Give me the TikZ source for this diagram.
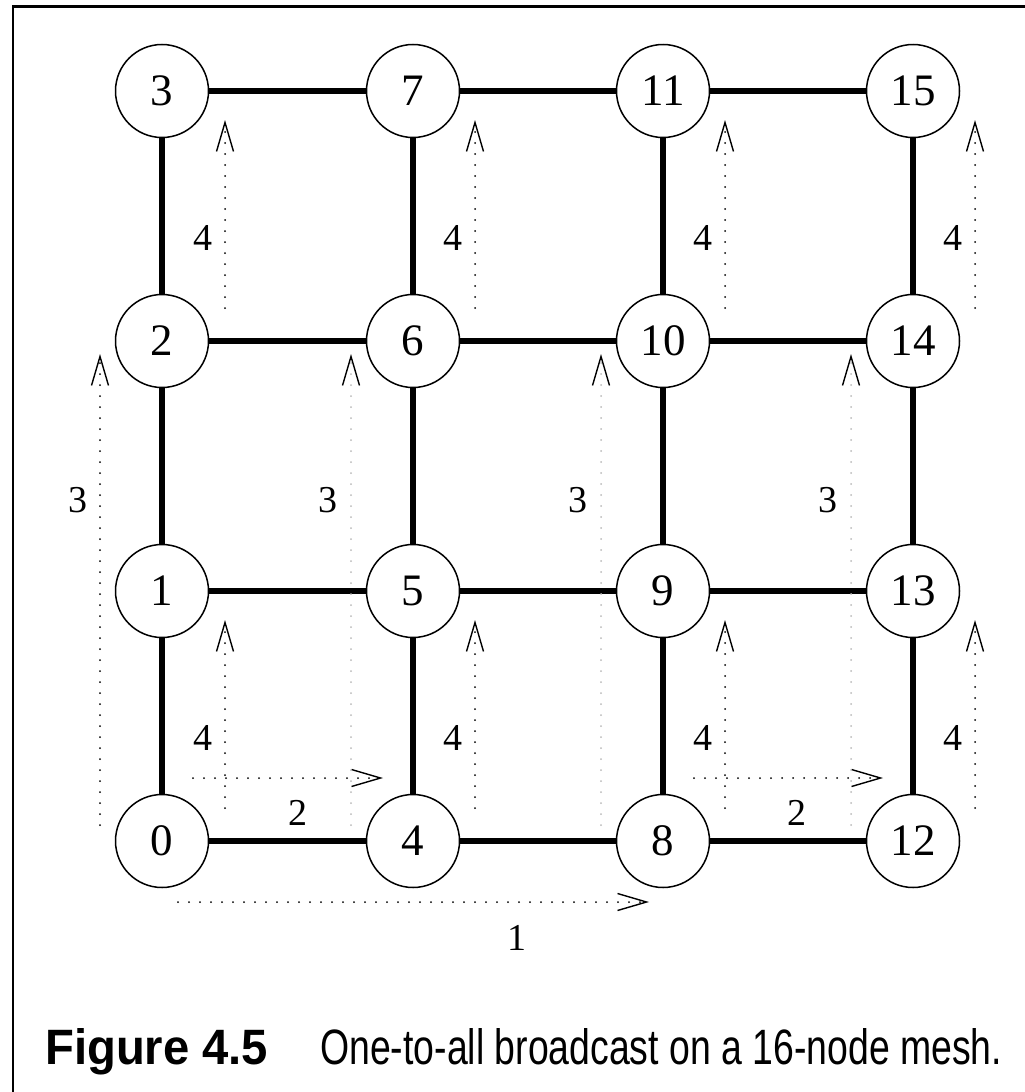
\documentclass[tikz,border=0pt]{standalone}
\usepackage{fontspec}
\usepackage{graphicx}
\setmainfont{Liberation Serif}
\newfontfamily\capfont{Liberation Sans}
\usetikzlibrary{arrows.meta}

\begin{document}
\begin{tikzpicture}[x=1pt,y=-1pt,
  mnode/.style={circle,draw,line width=1.5pt,minimum size=93pt,inner sep=0pt,font=\fontsize{45}{50}\selectfont},
  link/.style={line width=6pt},
  msg/.style={line width=2pt,line cap=round,dash pattern=on 0pt off 11pt,
    -{Straight Barb[length=29pt,width=17pt,line width=1.4pt,color=black]}},
  faint/.style={draw=gray!55},
  lbl/.style={font=\fontsize{38}{42}\selectfont,inner sep=0pt},
  frame/.style={line width=2.5pt}
]
\useasboundingbox (0,0) rectangle (1025,1092);

% frame (only left and top edges visible)
\coordinate (fa) at (13,1092);
\coordinate (fb) at (13,6.5);
\coordinate (fc) at (1025,6.5);
\draw[frame] (fa) -- (fb) -- (fc);

% mesh nodes
\foreach \c/\x in {0/162,1/413,2/663,3/913}{
  \foreach \r/\y in {0/841,1/591,2/341,3/91}{
    \pgfmathtruncatemacro{\n}{4*\c+\r}
    \node[mnode] (n\n) at (\x,\y) {\n};
  }
}

% links
\foreach \a/\b in {0/4,4/8,8/12,1/5,5/9,9/13,2/6,6/10,10/14,3/7,7/11,11/15,
                   0/1,1/2,2/3,4/5,5/6,6/7,8/9,9/10,10/11,12/13,13/14,14/15}{
  \draw[link] (n\a) -- (n\b);
}

% step 1
\coordinate (s1a) at (178,902);
\coordinate (s1b) at (649,902);
\draw[msg] (s1a) -- (s1b);
\node[lbl] (l1) at (517,938) {1};

% step 2
\coordinate (s2aa) at (193,778);
\coordinate (s2ab) at (383,778);
\draw[msg] (s2aa) -- (s2ab);
\node[lbl] (l2a) at (298,813) {2};
\coordinate (s2ba) at (694,778);
\coordinate (s2bb) at (883,778);
\draw[msg] (s2ba) -- (s2bb);
\node[lbl] (l2b) at (797,813) {2};

% step 3
\coordinate (s3aa) at (100,825);
\coordinate (s3ab) at (100,354);
\draw[msg] (s3aa) -- (s3ab);
\node[lbl] (l3a) at (78,500) {3};
\foreach \i/\x in {b/351,c/601,d/851}{
  \coordinate (s3\i a) at (\x,825);
  \coordinate (s3\i b) at (\x,354);
  \draw[msg,faint] (s3\i a) -- (s3\i b);
  \node[lbl] (l3\i) at (\x-23,500) {3};
}

% step 4
\foreach \i/\x in {a/225,b/475,c/725,d/975}{
  \coordinate (s4\i a) at (\x,808);
  \coordinate (s4\i b) at (\x,620);
  \draw[msg] (s4\i a) -- (s4\i b);
  \node[lbl] (l4\i) at (\x-22,738) {4};
  \coordinate (t4\i a) at (\x,308);
  \coordinate (t4\i b) at (\x,120);
  \draw[msg] (t4\i a) -- (t4\i b);
  \node[lbl] (m4\i) at (\x-22,238) {4};
}

% caption
\node[anchor=base west,inner sep=0pt] (figno) at (45,1064)
  {\resizebox{223pt}{36pt}{\capfont\bfseries Figure 4.5}};
\node[anchor=base west,inner sep=0pt] (captxt) at (320,1064)
  {\resizebox{682pt}{36pt}{\capfont One-to-all broadcast on a 16-node mesh.}};
\end{tikzpicture}
\end{document}
